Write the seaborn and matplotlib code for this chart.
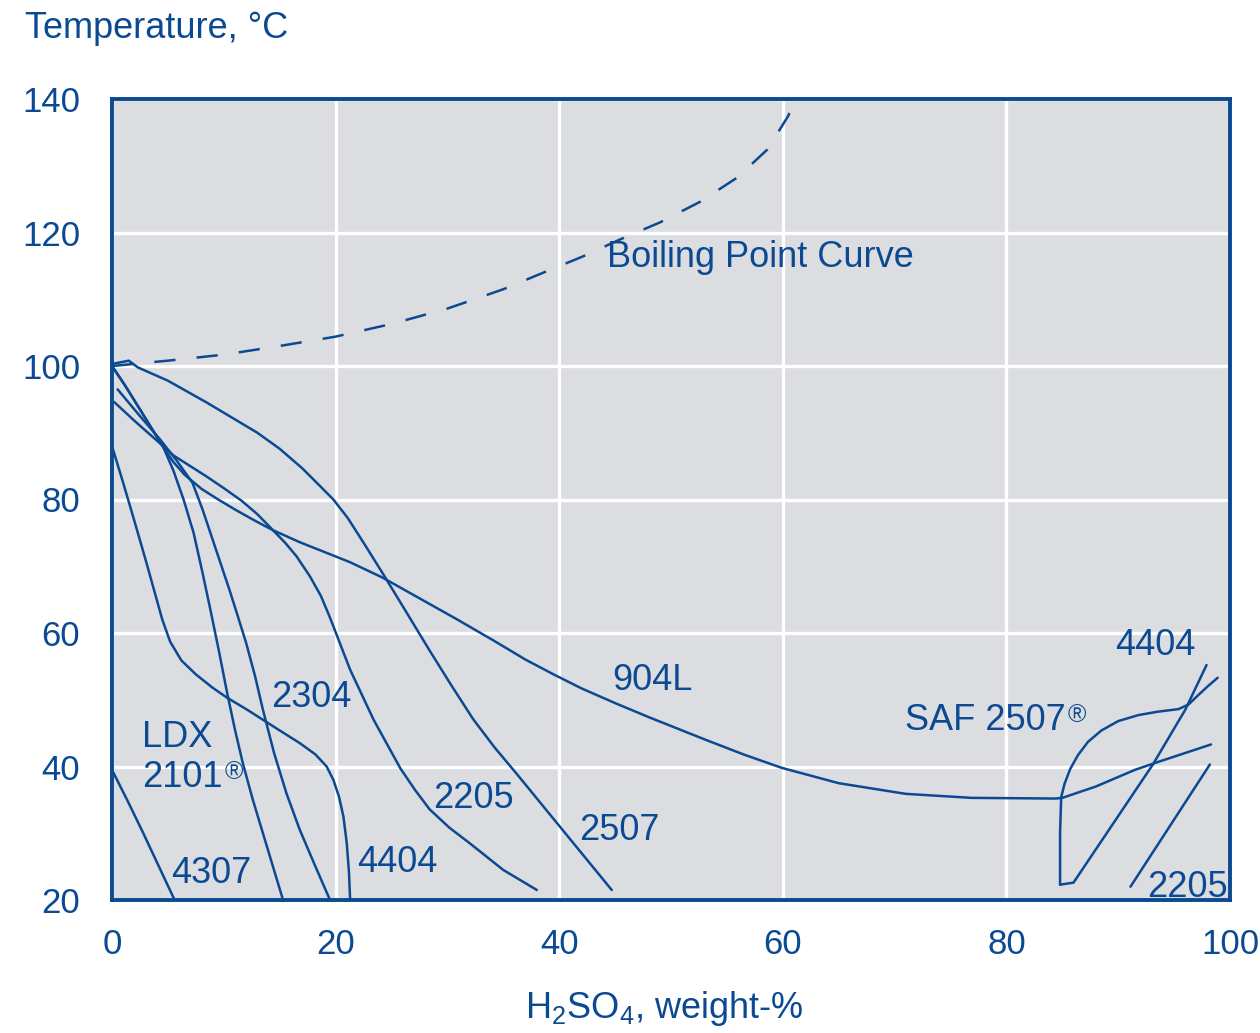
import numpy as np
import pandas as pd
import matplotlib
matplotlib.use("Agg")
import matplotlib.pyplot as plt
import seaborn as sns

# ---------------- data ----------------
boil_x = [0, 5, 10, 15, 20, 25, 30, 35, 38.6, 42.1, 45.5, 49, 52.6, 55.9, 58.6, 60.5, 61.0]
boil_y = [100, 100.8, 101.7, 103, 104.4, 106.3, 108.6, 111.5, 114, 116.4, 119, 121.5, 124.6, 128.2, 132.4, 137.5, 140]

ldx_x = [0, 1.2, 2.5, 4.6, 5.5, 6.4, 7.3, 8.1, 8.8, 9.6, 10.3, 11.0, 11.7, 12.6, 13.5, 14.4, 15.3]
ldx_y = [100, 97, 93.5, 87.8, 84.3, 80, 75, 69, 63.5, 57, 51, 45.5, 40.5, 35, 30, 25, 20]

s2304_x = [0.5, 2.5, 4.3, 5.8, 7.2, 8.1, 9.0, 9.8, 10.5, 11.2, 12.0, 12.8, 13.5, 14.5, 15.6, 16.8, 18.2, 19.5]
s2304_y = [96.5, 92.5, 89, 85.8, 82.5, 78.5, 74, 70, 66.5, 62.8, 58.5, 53.5, 48.5, 42, 36, 30.5, 25, 20]

s2205_x = [0.2, 2.0, 4.1, 5.5, 7.0, 8.5, 10.0, 11.6, 13.0, 14.4, 15.5, 16.5, 17.7, 18.7, 19.5, 21.3, 23.4,
           25.8, 27.1, 28.4, 30.2, 32.0, 35.0, 38.0]
s2205_y = [94.6, 91.8, 88.7, 86.6, 85, 83.4, 81.7, 79.8, 77.8, 75.4, 73.5, 71.5, 68.5, 65.5, 62.3, 54.5, 47,
           39.7, 36.5, 33.6, 30.8, 28.5, 24.5, 21.5]

s904l_x = [0, 1.2, 2.5, 4.6, 5.5, 6.5, 8.0, 9.5, 11.0, 12.7, 14.4, 16.8, 19.2, 21.3, 24.2, 27.5, 30.8, 34.0,
           37.0, 39.5, 42.0, 45.0, 48.0, 53.1, 56.5, 59.9, 65.0, 71.0, 76.9, 84.4, 85.0, 88.0, 91.5, 93.6, 98.3]
s904l_y = [100, 97, 93.5, 87.8, 85.6, 83.7, 81.6, 80, 78.5, 76.9, 75.4, 73.6, 72, 70.6, 68.3, 65.2, 62.1, 59,
           56, 53.8, 51.7, 49.5, 47.4, 44, 41.8, 39.8, 37.5, 35.9, 35.3, 35.2, 35.3, 37, 39.5, 40.7, 43.3]

s2507_x = [0, 1.5, 2.3, 5.0, 8.5, 13.0, 15.0, 17.0, 18.5, 19.8, 21.1, 22.7, 24.3, 26.3, 28.4, 30.3, 32.3,
           34.2, 36.2, 40.3, 44.7]
s2507_y = [100.3, 100.8, 99.8, 97.8, 94.5, 90, 87.6, 84.7, 82.2, 80, 77.2, 73, 68.7, 63.2, 57.4, 52.3, 47.1,
           42.9, 38.9, 30.5, 21.5]

s4404_x = [0, 1.0, 2.0, 3.0, 3.8, 4.5, 5.2, 6.2, 7.5, 9.0, 10.3, 12.0, 13.5, 15.0, 16.8, 18.2, 19.2, 19.8,
           20.3, 20.7, 21.0, 21.2, 21.3]
s4404_y = [88, 82.5, 76.8, 71, 66.2, 62, 58.7, 55.9, 53.8, 51.8, 50.3, 48.6, 47, 45.4, 43.5, 41.8, 40, 38,
           35.5, 32.5, 28.5, 24, 20]

s4307_x = [0, 1.5, 2.8, 4.2, 5.6]
s4307_y = [39.5, 34.5, 30, 25, 20]

saf2507_x = [84.8, 84.8, 84.9, 85.2, 85.7, 86.4, 87.3, 88.5, 90.0, 91.8, 93.5, 95.4, 96.3, 97.1, 98.0, 98.9]
saf2507_y = [22.3, 30, 35.4, 37.4, 39.6, 41.7, 43.7, 45.4, 46.8, 47.7, 48.2, 48.6, 49.3, 50.6, 52, 53.3]

r4404_x = [84.8, 86.0, 93.1, 96.0, 97.9]
r4404_y = [22.3, 22.6, 40.3, 48.5, 55.2]

r2205_x = [91.1, 98.2]
r2205_y = [22.0, 40.3]

x_ticks = [0, 20, 40, 60, 80, 100]
y_ticks = [20, 40, 60, 80, 100, 120, 140]

labels = ["904L", "2507", "2205", "4404", "2304", "4307", "4404", "2205"]
label_x = [48.3, 45.4, 32.3, 25.5, 17.8, 8.9, 93.3, 96.2]
label_y = [51.5, 29.0, 33.8, 24.2, 48.9, 22.5, 56.7, 20.4]

# ---------------- styling ----------------
BLUE = "#0b4a92"
BG = "#dcdde0"

sns.set_theme(style="whitegrid")
plt.rcParams["font.family"] = ["Liberation Sans", "DejaVu Sans"]
plt.rcParams["mathtext.fontset"] = "custom"
plt.rcParams["mathtext.rm"] = "Liberation Sans"
plt.rcParams["mathtext.it"] = "Liberation Sans:italic"
plt.rcParams["mathtext.bf"] = "Liberation Sans:bold"

fig = plt.figure(figsize=(12.6, 10.33), dpi=100)
ax = fig.add_axes([112 / 1260, 1 - 900 / 1033, (1230 - 112) / 1260, (900 - 99) / 1033])
ax.set_facecolor(BG)

curves = {
    "LDX 2101": (ldx_x, ldx_y),
    "2304": (s2304_x, s2304_y),
    "2205": (s2205_x, s2205_y),
    "904L": (s904l_x, s904l_y),
    "2507": (s2507_x, s2507_y),
    "4404": (s4404_x, s4404_y),
    "4307": (s4307_x, s4307_y),
    "SAF 2507": (saf2507_x, saf2507_y),
    "4404 (conc.)": (r4404_x, r4404_y),
    "2205 (conc.)": (r2205_x, r2205_y),
}
frames = []
for name, (xs, ys) in curves.items():
    frames.append(pd.DataFrame({"x": xs, "y": ys, "curve": name}))
df = pd.concat(frames, ignore_index=True)

sns.lineplot(data=df, x="x", y="y", units="curve", estimator=None, sort=False,
             color=BLUE, linewidth=1.8, ax=ax, legend=False)
for ln in ax.lines:
    ln.set_solid_joinstyle("round")

boil = pd.DataFrame({"x": boil_x, "y": boil_y})
sns.lineplot(data=boil, x="x", y="y", sort=False, estimator=None, color=BLUE,
             linewidth=1.8, ax=ax, legend=False)
ax.lines[-1].set_dashes((8.5, 8.5))
ax.lines[-1].set_dash_capstyle("butt")

ax.set_xlim(0, 100)
ax.set_ylim(20, 140)
ax.set_xticks(x_ticks)
ax.set_yticks(y_ticks)
ax.set_xticklabels([str(v) for v in x_ticks])
ax.set_yticklabels([str(v) for v in y_ticks])
ax.grid(True, color="white", linewidth=2.4)
ax.set_axisbelow(True)
for sp in ax.spines.values():
    sp.set_visible(True)
    sp.set_color(BLUE)
    sp.set_linewidth(2.8)
ax.tick_params(axis="both", length=0, labelsize=25, labelcolor=BLUE)
ax.tick_params(axis="y", pad=23)
ax.tick_params(axis="x", pad=20)
ax.set_xlabel("")
ax.set_ylabel("")

FS = 26
for t, lx, ly in zip(labels, label_x, label_y):
    ax.text(lx, ly, t, ha="center", va="baseline", fontsize=FS, color=BLUE)

ax.text(2.7, 42.9, "LDX", ha="left", va="baseline", fontsize=FS, color=BLUE)
t2101 = ax.text(2.7, 36.9, "2101", ha="left", va="baseline", fontsize=FS, color=BLUE)
ax.annotate("®", xy=(1.0, 0.66), xycoords=t2101, xytext=(1.5, 0), textcoords="offset points",
            ha="left", va="center", fontsize=18, color=BLUE)
tsaf = ax.text(70.9, 45.5, "SAF 2507", ha="left", va="baseline", fontsize=FS, color=BLUE)
ax.annotate("®", xy=(1.0, 0.66), xycoords=tsaf, xytext=(1.5, 0), textcoords="offset points",
            ha="left", va="center", fontsize=18, color=BLUE)
ax.text(44.3, 114.8, "Boiling Point Curve", ha="left", va="baseline", fontsize=FS, color=BLUE)

fig.text(25 / 1260, 1 - 38 / 1033, "Temperature, °C", ha="left", va="baseline",
         fontsize=FS, color=BLUE)
fig.text(525 / 1260, 1 - 1018 / 1033, r"H$_\mathregular{2}$SO$_\mathregular{4}$, weight-%",
         ha="left", va="baseline", fontsize=FS, color=BLUE)

fig.savefig("out.png", dpi=100, facecolor="white")
